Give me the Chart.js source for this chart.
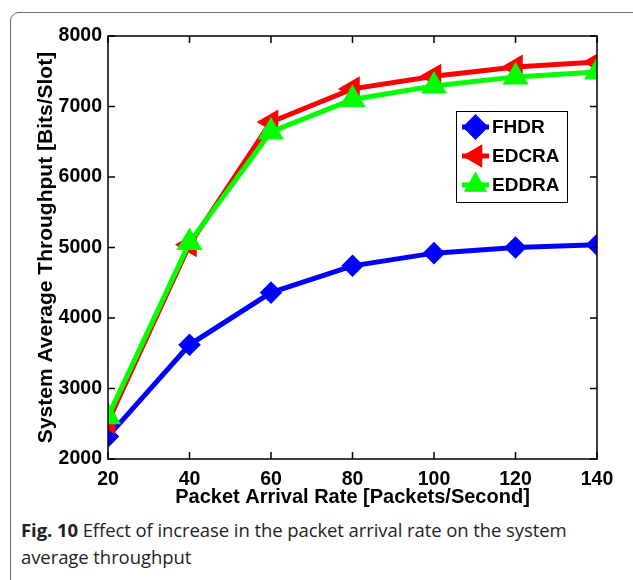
<!DOCTYPE html>
<html>
<head>
<meta charset="utf-8">
<script src="https://cdn.jsdelivr.net/npm/chart.js@4.4.1/dist/chart.umd.min.js"></script>
<style>
  body { margin: 0; background: #fff; }
  #frame {
    position: absolute; left: 10px; top: 12px; width: 660px; height: 620px;
    border: 1px solid #6b6b6b; border-radius: 9px;
  }
  #wrap { position: absolute; left: 0; top: 0; width: 633px; height: 515px; }
  #caption {
    position: absolute; left: 21px; top: 516px; width: 605px;
    font-family: "Open Sans", sans-serif; font-size: 18.5px; line-height: 27px;
    color: #231f20; letter-spacing: -0.08px;
  }
  #caption b { font-weight: 700; }
</style>
</head>
<body>
<div id="frame"></div>
<div id="wrap"><canvas id="chart"></canvas></div>
<div id="caption"><b>Fig. 10</b> Effect of increase in the packet arrival rate on the system average throughput</div>
<script>
'use strict';

// packet arrival rates on the x axis
const arrivalRates = [20, 40, 60, 80, 100, 120, 140];

// throughput per scheme [bits/slot]
const fhdr = [2320, 3620, 4360, 4740, 4920, 5000, 5040];
const edcra = [2530, 5040, 6780, 7250, 7430, 7560, 7630];
const eddra = [2600, 5070, 6640, 7100, 7290, 7420, 7490];

const yTicks = [2000, 3000, 4000, 5000, 6000, 7000, 8000];

const axisFont = { family: 'Liberation Sans', size: 19.5, weight: 'bold' };

// inward tick marks on all four sides plus the box around the plot
const boxTicks = {
  id: 'boxTicks',
  afterDraw(chart) {
    const ctx = chart.ctx;
    const a = chart.chartArea;
    const xs = chart.scales.x;
    const ys = chart.scales.y;
    const len = 7;
    ctx.save();
    ctx.strokeStyle = '#000';
    ctx.lineWidth = 1.5;
    ctx.strokeRect(a.left, a.top, a.right - a.left, a.bottom - a.top);
    ctx.beginPath();
    for (let v of arrivalRates) {
      let px = xs.getPixelForValue(v);
      ctx.moveTo(px, a.bottom); ctx.lineTo(px, a.bottom - len);
      ctx.moveTo(px, a.top); ctx.lineTo(px, a.top + len);
    }
    for (let v of yTicks) {
      let py = ys.getPixelForValue(v);
      ctx.moveTo(a.left, py); ctx.lineTo(a.left + len, py);
      ctx.moveTo(a.right, py); ctx.lineTo(a.right - len, py);
    }
    ctx.stroke();
    ctx.restore();
  }
};

// legend box drawn inside the plot, MATLAB style
const boxLegend = {
  id: 'boxLegend',
  afterDraw(chart, args, opts) {
    const ctx = chart.ctx;
    ctx.save();
    ctx.fillStyle = '#fff';
    ctx.fillRect(opts.x, opts.y, opts.w, opts.h);
    ctx.strokeStyle = '#000';
    ctx.lineWidth = 1;
    ctx.strokeRect(opts.x + 0.5, opts.y + 0.5, opts.w, opts.h);
    chart.data.datasets.forEach((ds, i) => {
      let cy = opts.y + opts.first + i * opts.step;
      ctx.strokeStyle = ds.borderColor;
      ctx.lineWidth = 5;
      ctx.beginPath();
      ctx.moveTo(opts.x + 6, cy);
      ctx.lineTo(opts.x + 33, cy);
      ctx.stroke();
      ctx.fillStyle = ds.borderColor;
      ctx.lineWidth = 2;
      Chart.helpers.drawPoint(ctx, {
        pointStyle: ds.pointStyle,
        rotation: ds.pointRotation || 0,
        radius: 11.5,
        borderWidth: 2
      }, opts.x + 19.5, cy);
      ctx.fillStyle = '#000';
      ctx.font = 'bold 19px "Liberation Sans"';
      ctx.textBaseline = 'middle';
      ctx.fillText(ds.label, opts.x + 36, cy + 1);
    });
    ctx.restore();
  }
};

function makeSeries(label, data, color, style, rotation, radius, order) {
  return {
    label: label,
    data: data,
    borderColor: color,
    backgroundColor: color,
    borderWidth: 5,
    pointStyle: style,
    pointRotation: rotation,
    pointRadius: radius,
    pointBorderWidth: 2.5,
    pointBackgroundColor: color,
    pointBorderColor: color,
    tension: 0,
    order: order
  };
}

function setup() {
  let ctx = document.getElementById('chart').getContext('2d');
  new Chart(ctx, {
    type: 'line',
    data: {
      labels: arrivalRates,
      datasets: [
        makeSeries('FHDR', fhdr, '#0000ff', 'rectRot', 0, 9.5, 2),
        makeSeries('EDCRA', edcra, '#ff0000', 'triangle', -90, 12, 1),
        makeSeries('EDDRA', eddra, '#00ff00', 'triangle', 0, 12.5, 0)
      ]
    },
    plugins: [boxTicks, boxLegend],
    options: {
      responsive: true,
      maintainAspectRatio: false,
      animation: false,
      layout: { padding: { left: 0, right: 36, top: 36, bottom: 0 } },
      plugins: {
        legend: { display: false },
        tooltip: { enabled: false },
        boxLegend: { x: 456, y: 111, w: 111, h: 91, first: 16, step: 29 }
      },
      scales: {
        x: {
          type: 'linear',
          min: 20, max: 140,
          grid: { display: false, drawTicks: false },
          border: { display: false },
          ticks: {
            stepSize: 20, padding: 9, color: '#000', font: axisFont,
            maxRotation: 0,
            callback: (v) => String(v)
          },
          title: {
            display: true,
            text: 'Packet Arrival Rate [Packets/Second]',
            color: '#000',
            font: { family: 'Liberation Sans', size: 20, weight: 'bold' },
            padding: { top: 0, bottom: 6 }
          },
          afterFit(scale) { scale.height = 56; }
        },
        y: {
          min: 2000, max: 8000,
          grid: { display: false, drawTicks: false },
          border: { display: false },
          ticks: {
            stepSize: 1000, padding: 6, color: '#000', font: axisFont,
            callback: (v) => String(v)
          },
          title: {
            display: true,
            text: 'System Average Throughput [Bits/Slot]',
            color: '#000',
            font: { family: 'Liberation Sans', size: 21, weight: 'bold' },
            padding: { top: 34, bottom: 0 }
          },
          afterFit(scale) { scale.width = 108; }
        }
      }
    }
  });
}

window.addEventListener('load', setup);
</script>
</body>
</html>
